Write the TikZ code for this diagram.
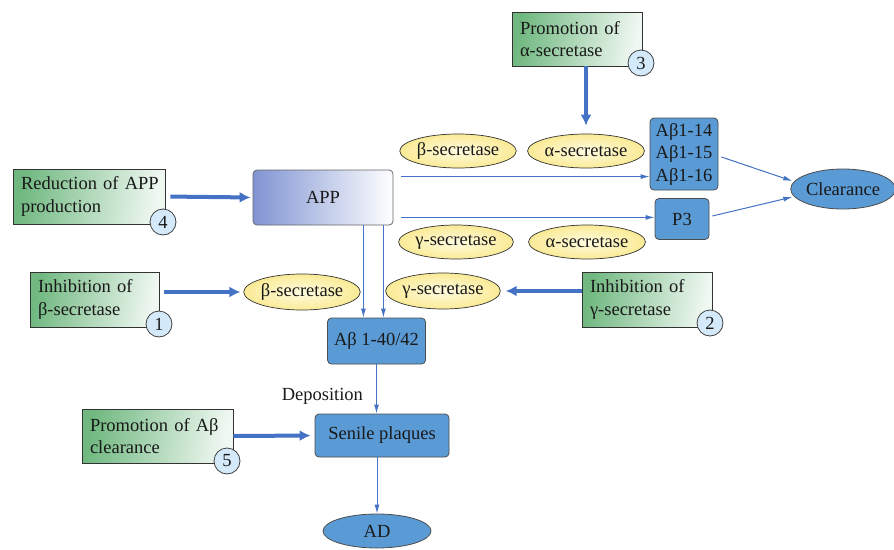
\documentclass[tikz,border=0pt]{standalone}
\usepackage{fontspec}
\setmainfont{Liberation Serif}
\usetikzlibrary{arrows.meta,calc,shapes.geometric}
\definecolor{arrblue}{RGB}{68,114,196}
\definecolor{boxblue}{RGB}{91,155,213}
\definecolor{gleft}{RGB}{112,184,128}
\definecolor{gright}{RGB}{240,248,242}
\definecolor{yfill}{RGB}{250,234,150}
\definecolor{yin}{RGB}{255,252,225}
\definecolor{cfill}{RGB}{212,234,250}
\definecolor{appleft}{RGB}{128,148,210}
\definecolor{txt}{RGB}{25,25,25}
\tikzset{
  every node/.style={font=\fontsize{18.5}{22.5}\selectfont, text=txt},
  greenbox/.style={draw=black!80, line width=0.8pt, rectangle, left color=gleft, right color=gright, shading angle=80, align=left, inner xsep=8pt, inner ysep=0pt, anchor=center},
  numcircle/.style={circle, draw=black!75, line width=0.8pt, fill=cfill, minimum size=26pt, inner sep=0pt},
  bluebox/.style={draw=black!70, line width=0.8pt, rounded corners=4pt, fill=boxblue, align=center, inner sep=0pt},
  blueell/.style={ellipse, draw=black!70, line width=0.8pt, fill=boxblue, inner sep=0pt},
  yell/.style={ellipse, draw=black!80, line width=0.7pt, inner color=yin, outer color=yfill, minimum width=106pt, minimum height=34pt, inner sep=0pt},
  arr/.style={draw=arrblue, line width=1pt, -{Latex[length=9pt,width=5pt]}},
  thickarr/.style={draw=arrblue, line width=4pt, -{Latex[length=11pt,width=11pt]}}
}
\begin{document}
\begin{tikzpicture}[x=1pt,y=-1pt]
\useasboundingbox (0,0) rectangle (894,549);

% green boxes
\node[greenbox, minimum width=130pt, minimum height=54pt, text width=114pt] (b3) at (577,39) {Promotion of\\α-secretase};
\node[numcircle] (c3) at (641,63) {3};
\node[greenbox, minimum width=152pt, minimum height=55pt, text width=136pt] (b4) at (89,196.5) {\mbox{Reduction of APP}\\production};
\node[numcircle] (c4) at (163,222) {4};
\node[greenbox, minimum width=129pt, minimum height=55pt, text width=113pt] (b1) at (94.5,299.5) {Inhibition of\\β-secretase};
\node[numcircle] (c1) at (159,324) {1};
\node[greenbox, minimum width=130pt, minimum height=55pt, text width=114pt] (b2) at (647,299.5) {Inhibition of\\γ-secretase};
\node[numcircle] (c2) at (710,323) {2};
\node[greenbox, minimum width=151pt, minimum height=54pt, text width=135pt] (b5) at (157.5,436) {\mbox{Promotion of Aβ}\\clearance};
\node[numcircle] (c5) at (227,461) {5};

% APP
\node[draw=black!60, line width=0.8pt, rounded corners=4pt, left color=appleft, right color=white, minimum width=140pt, minimum height=55pt, inner sep=0pt] (app) at (323,197.5) {APP};

% blue boxes
\node[bluebox, minimum width=68pt, minimum height=72pt] (ab) at (684,154) {Aβ1-14\\Aβ1-15\\Aβ1-16};
\node[bluebox, minimum width=54pt, minimum height=41pt] (p3) at (682,219) {P3};
\node[blueell, minimum width=94pt, minimum height=40pt] (clr) at (843,189) {Clearance};
\node[bluebox, minimum width=98pt, minimum height=46pt] (ab42) at (376.5,341) {Aβ 1-40/42};
\node[bluebox, minimum width=134pt, minimum height=43pt] (sp) at (382,435.5) {Senile plaques};
\node[blueell, minimum width=108pt, minimum height=34pt] (ad) at (377,531) {AD};

% yellow ellipses
\node[yell] (e1) at (458,151) {β-secretase};
\node[yell] (e2) at (586,151) {α-secretase};
\node[yell] (e3) at (456,242) {γ-secretase};
\node[yell] (e4) at (587,242) {α-secretase};
\node[yell, minimum width=108pt, minimum height=36pt] (e5) at (302,292) {β-secretase};
\node[yell, minimum width=108pt, minimum height=36pt] (e6) at (443,291) {γ-secretase};

% thin arrows
\coordinate (t1) at ($(app.north east)+(8,7)$);
\draw[arr] (t1) -- (t1 -| ab.west);
\coordinate (t2) at ($(app.south east)+(8,-8)$);
\draw[arr] (t2) -- (t2 -| p3.west);
\coordinate (v1) at ($(app.south east)+(-30,0)$);
\draw[arr] (v1) -- (v1 |- ab42.north);
\coordinate (v2) at ($(app.south east)+(-10,0)$);
\draw[arr] (v2) -- (v2 |- ab42.north);
\coordinate (d1) at (ab42.south);
\draw[arr] (d1) -- (d1 |- sp.north);
\coordinate (d2) at (sp.south -| ad.north);
\draw[arr] (d2) -- (ad.north);
\node[anchor=east] (dep) at ($(d1)+(-10,32)$) {Deposition};
\coordinate (k1) at ($(ab.east)+(3,3)$);
\draw[arr] (k1) -- ($(clr.west)+(2,-8)$);
\coordinate (k2) at ($(p3.east)+(3,-3)$);
\draw[arr] (k2) -- ($(clr.west)+(2,8)$);

% thick arrows
\coordinate (s3) at (b3.south -| e2.north);
\draw[thickarr] (s3) -- ($(e2.north)+(0,-8)$);
\draw[thickarr, shorten <=5pt, shorten >=2pt] (b4.east) -- (app.west);
\coordinate (s1) at (b1.east |- e5.west);
\draw[thickarr, shorten <=5pt, shorten >=3pt] (s1) -- (e5.west);
\coordinate (s2) at (b2.west |- e6.east);
\draw[thickarr, shorten >=5pt] (s2) -- (e6.east);
\draw[thickarr, shorten >=4pt] (b5.east) -- (sp.west);
\end{tikzpicture}
\end{document}
